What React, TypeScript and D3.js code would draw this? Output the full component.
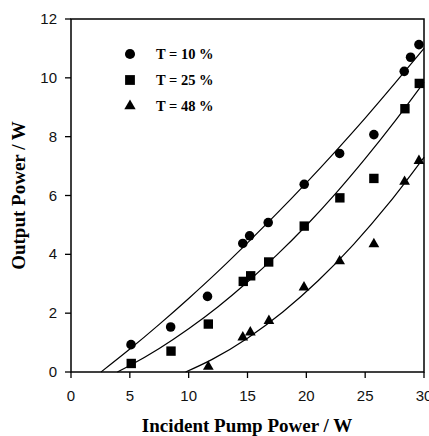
import React, { useEffect, useRef } from "react";
import * as d3 from "d3";

// measured points (incident pump power in W, output power in W)
const pumpT10 = [5.1, 8.47, 11.6, 14.6, 15.18, 16.76, 19.82, 22.83, 25.74, 28.32, 28.86, 29.57];
const outT10 = [0.93, 1.53, 2.57, 4.37, 4.63, 5.08, 6.38, 7.43, 8.07, 10.22, 10.7, 11.13];
const pumpT25 = [5.12, 8.5, 11.67, 14.64, 15.27, 16.8, 19.82, 22.85, 25.74, 28.38, 29.6];
const outT25 = [0.29, 0.71, 1.63, 3.08, 3.27, 3.74, 4.96, 5.92, 6.58, 8.95, 9.81];
const pumpT48 = [11.67, 14.6, 15.24, 16.82, 19.8, 22.83, 25.74, 28.35, 29.57];
const outT48 = [0.18, 1.18, 1.35, 1.74, 2.88, 3.77, 4.35, 6.47, 7.18];

// fitted curves
const fitX10 = [2.55, 5, 7.5, 10, 12.5, 15, 17.5, 20, 22.5, 25, 27.5, 30];
const fitY10 = [0, 0.78, 1.62, 2.5, 3.42, 4.39, 5.39, 6.43, 7.51, 8.63, 9.8, 11.0];
const fitX25 = [3.94, 5, 7.5, 10, 12.5, 15, 17.5, 20, 22.5, 25, 27.5, 30];
const fitY25 = [0, 0.22, 0.8, 1.47, 2.22, 3.06, 3.98, 4.98, 6.07, 7.25, 8.51, 9.85];
const fitX48 = [9.74, 12, 15, 18, 21, 24, 27, 30];
const fitY48 = [0, 0.43, 1.15, 2.04, 3.1, 4.33, 5.73, 7.3];

const legendLabels = ["T = 10 %", "T = 25 %", "T = 48 %"];
const xTicks = [0, 5, 10, 15, 20, 25, 30];
const yTicks = [0, 2, 4, 6, 8, 10, 12];

const serif = "'Liberation Serif', 'Times New Roman', serif";
const sans = "'Liberation Sans', Arial, sans-serif";

export default function App() {
  const svgRef = useRef<SVGSVGElement>(null);

  useEffect(() => {
    const width = 429;
    const height = 436;
    const svg = d3.select(svgRef.current).attr("width", width).attr("height", height);
    svg.selectAll("*").remove();

    const x = d3.scaleLinear().domain([0, 30]).range([71, 424]);
    const y = d3.scaleLinear().domain([0, 12]).range([372, 19]);

    const symbols = [d3.symbolCircle, d3.symbolSquare, d3.symbolTriangle];
    const sizes = [72, 88, 50];
    const series = [
      { px: pumpT10, py: outT10, fx: fitX10, fy: fitY10 },
      { px: pumpT25, py: outT25, fx: fitX25, fy: fitY25 },
      { px: pumpT48, py: outT48, fx: fitX48, fy: fitY48 },
    ];

    const line = d3
      .line<[number, number]>()
      .x((d) => x(d[0]))
      .y((d) => y(d[1]))
      .curve(d3.curveMonotoneX);

    series.forEach((s, i) => {
      svg
        .append("path")
        .attr("d", line(s.fx.map((v, j) => [v, s.fy[j]] as [number, number])))
        .attr("fill", "none")
        .attr("stroke", "#000")
        .attr("stroke-width", 1.2);

      svg
        .append("g")
        .selectAll("path")
        .data(s.px.map((v, j) => [v, s.py[j]]))
        .enter()
        .append("path")
        .attr("transform", (d) => `translate(${x(d[0])},${y(d[1])})`)
        .attr("d", d3.symbol().type(symbols[i]).size(sizes[i])())
        .attr("fill", "#000");
    });

    // frame
    svg
      .append("rect")
      .attr("x", x(0))
      .attr("y", y(12))
      .attr("width", x(30) - x(0))
      .attr("height", y(0) - y(12))
      .attr("fill", "none")
      .attr("stroke", "#000")
      .attr("stroke-width", 1.5);

    // x axis ticks
    const xg = svg.append("g");
    xTicks.forEach((t) => {
      xg.append("line")
        .attr("x1", x(t)).attr("x2", x(t))
        .attr("y1", y(0)).attr("y2", y(0) + 6)
        .attr("stroke", "#000").attr("stroke-width", 1.3);
      xg.append("text")
        .attr("x", x(t)).attr("y", 401)
        .attr("text-anchor", "middle")
        .style("font-family", sans).style("font-size", "15px")
        .attr("fill", "#111")
        .text(t);
    });

    // y axis ticks
    const yg = svg.append("g");
    yTicks.forEach((t) => {
      yg.append("line")
        .attr("x1", x(0) - 6).attr("x2", x(0))
        .attr("y1", y(t)).attr("y2", y(t))
        .attr("stroke", "#000").attr("stroke-width", 1.3);
      yg.append("text")
        .attr("x", 57).attr("y", y(t) + 5)
        .attr("text-anchor", "end")
        .style("font-family", sans).style("font-size", "15px")
        .attr("fill", "#111")
        .text(t);
    });

    svg
      .append("text")
      .attr("x", 247)
      .attr("y", 432)
      .attr("text-anchor", "middle")
      .style("font-family", serif)
      .style("font-size", "19px")
      .style("font-weight", "bold")
      .text("Incident Pump Power / W");

    svg
      .append("text")
      .attr("transform", `translate(25,${(y(0) + y(12)) / 2}) rotate(-90)`)
      .attr("text-anchor", "middle")
      .style("font-family", serif)
      .style("font-size", "19px")
      .style("font-weight", "bold")
      .text("Output Power / W");

    // legend
    const legendSizes = [80, 96, 56];
    legendLabels.forEach((lab, i) => {
      const ly = 54 + i * 26;
      svg
        .append("path")
        .attr("transform", `translate(130,${ly})`)
        .attr("d", d3.symbol().type(symbols[i]).size(legendSizes[i])())
        .attr("fill", "#000");
      svg
        .append("text")
        .attr("x", 156)
        .attr("y", ly + 5)
        .style("font-family", serif)
        .style("font-size", "14.5px")
        .style("font-weight", "bold")
        .text(lab);
    });
  }, []);

  return (
    <svg
      ref={svgRef}
      style={{ position: "absolute", left: 0, top: 0, display: "block", background: "#fff" }}
    ></svg>
  );
}
